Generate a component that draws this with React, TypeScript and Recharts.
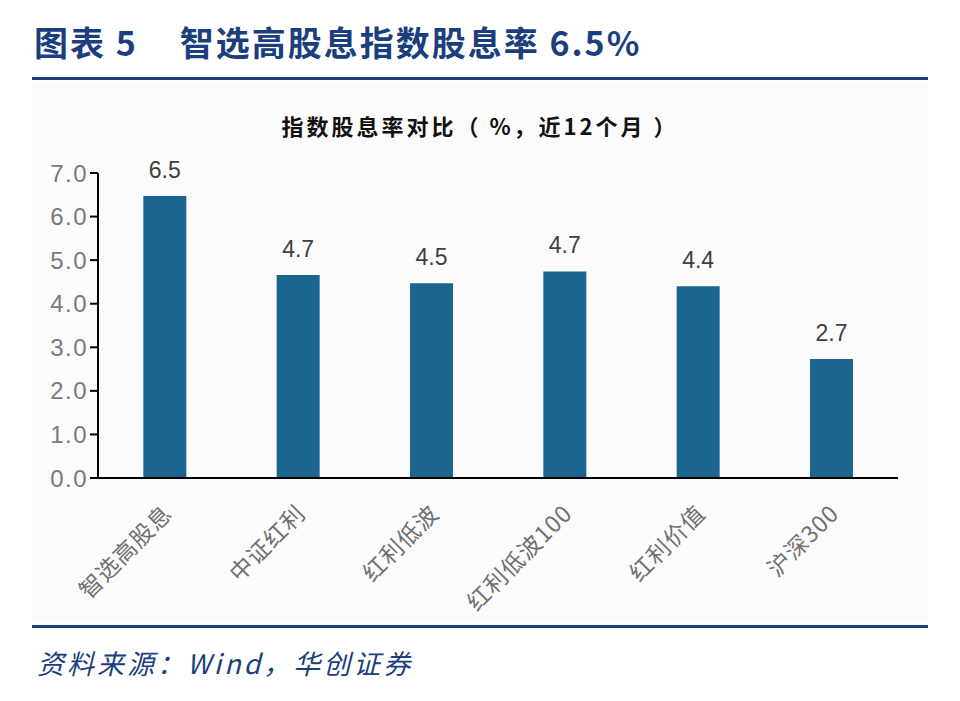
import React from 'react'
import { BarChart, Bar, XAxis, YAxis, LabelList } from 'recharts'

const categories = ['智选高股息', '中证红利', '红利低波', '红利低波100', '红利价值', '沪深300']
const dividendYield = [6.47, 4.66, 4.47, 4.74, 4.4, 2.73]
const yTicks = [0, 1, 2, 3, 4, 5, 6, 7]

const BLUE = '#1a6690'
const NAVY = '#1b3f7e'
const NUM_FONT = '"Liberation Sans", Arial, sans-serif'
const CJK_FONT = '"Noto Sans CJK SC", "Liberation Sans", sans-serif'

const data = categories.map((name, i) => ({ name, value: dividendYield[i] }))

// rotated category labels, text ends just below the bar
const SlantTick = ({ x, y, payload }: any) => (
  <g transform={`translate(${x + 2},${y + 22})`}>
    <text
      transform="rotate(-45)"
      textAnchor="end"
      dominantBaseline="central"
      fill="#707070"
      fontSize={23}
      letterSpacing={1}
      fontFamily={CJK_FONT}
    >
      {payload.value}
    </text>
  </g>
)

export default function App() {
  return (
    <div style={{ position: 'absolute', left: 0, top: 0, width: 960, height: 701, background: '#fff', overflow: 'hidden' }}>
      {/* header */}
      <div style={{ position: 'absolute', left: 34, top: 18, fontFamily: CJK_FONT, fontWeight: 700, fontSize: 34, letterSpacing: 2, color: NAVY, whiteSpace: 'nowrap', lineHeight: '48px' }}>
        图表 5<span style={{ display: 'inline-block', width: 42 }} />智选高股息指数股息率 6.5%
      </div>
      <div style={{ position: 'absolute', left: 32, top: 77, width: 896, height: 3, background: NAVY }} />

      {/* chart box */}
      <div style={{ position: 'absolute', left: 32, top: 82, width: 896, height: 540, background: '#fbfbfb' }}>
        <div style={{ position: 'absolute', left: 0, top: 29, width: 896, textAlign: 'center', fontFamily: CJK_FONT, fontWeight: 700, fontSize: 22, letterSpacing: 3, color: '#111', lineHeight: '28px' }}>
          指数股息率对比（ %，近12个月 ）
        </div>
        <div style={{ position: 'absolute', left: 0, top: 0 }}>
          <BarChart width={896} height={540} data={data} margin={{ top: 91, right: 30, left: 6, bottom: 14 }} barCategoryGap="34%">
            <XAxis
              dataKey="name"
              height={130}
              interval={0}
              axisLine={{ stroke: '#000', strokeWidth: 2 }}
              tickLine={false}
              tick={<SlantTick />}
            />
            <YAxis
              width={60}
              domain={[0, 7]}
              ticks={yTicks}
              interval={0}
              tickFormatter={(v: number) => v.toFixed(1)}
              axisLine={{ stroke: '#000', strokeWidth: 2 }}
              tickLine={{ stroke: '#000', strokeWidth: 2 }}
              tickSize={8}
              tick={{ fill: '#7a7a7a', fontSize: 24, letterSpacing: 1.5, fontFamily: NUM_FONT }}
            />
            <Bar dataKey="value" fill={BLUE} isAnimationActive={false}>
              <LabelList
                dataKey="value"
                position="top"
                offset={18}
                formatter={(v: any) => Number(v).toFixed(1)}
                style={{ fill: '#404040', fontSize: 23, fontFamily: NUM_FONT }}
              />
            </Bar>
          </BarChart>
        </div>
      </div>

      {/* footer */}
      <div style={{ position: 'absolute', left: 32, top: 625, width: 896, height: 3, background: NAVY }} />
      <div style={{ position: 'absolute', left: 37, top: 645, fontFamily: CJK_FONT, fontStyle: 'italic', fontSize: 27, letterSpacing: 3, color: NAVY, whiteSpace: 'nowrap', lineHeight: '36px' }}>
        资料来源：Wind，华创证券
      </div>
    </div>
  )
}
